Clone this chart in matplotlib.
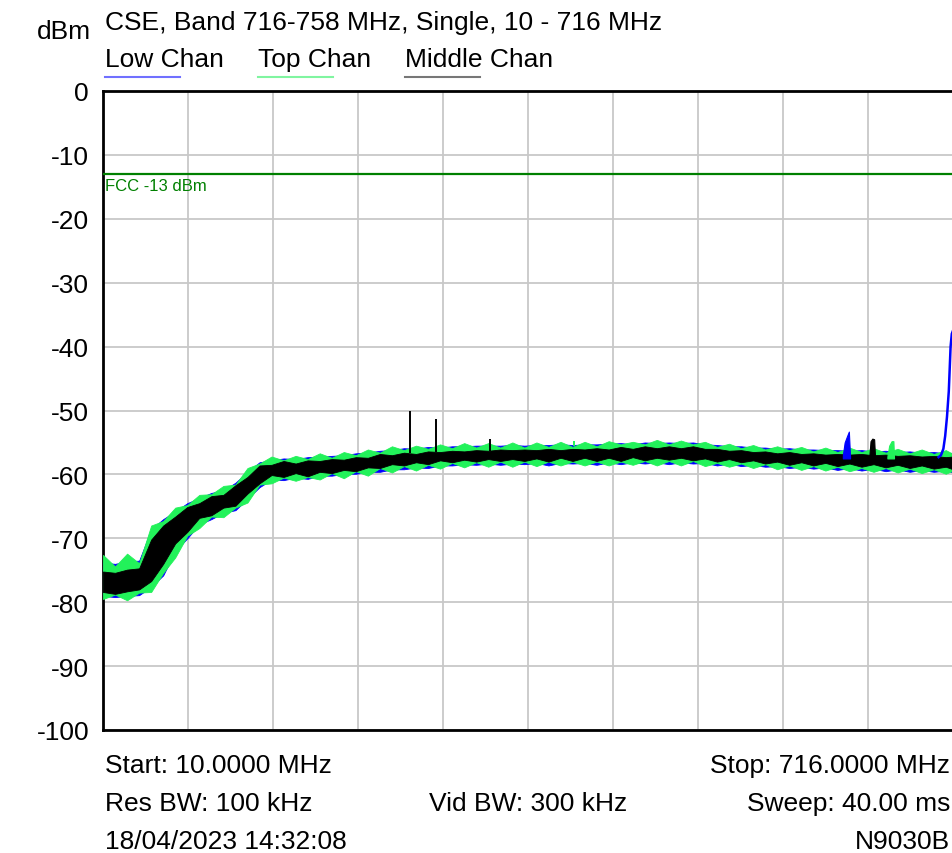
import matplotlib
matplotlib.use("Agg")
import matplotlib.pyplot as plt
import numpy as np

plt.rcParams['font.family'] = ['Liberation Sans', 'DejaVu Sans']

# ---------------- data ----------------
title = "CSE, Band 716-758 MHz, Single, 10 - 716 MHz"
series_names = ["Low Chan", "Top Chan", "Middle Chan"]
start_mhz = 10.0
stop_mhz = 716.0
y_ticks = [0, -10, -20, -30, -40, -50, -60, -70, -80, -90, -100]
fcc_limit = -13.0
fcc_label = "FCC -13 dBm"

freq = [10, 20, 30, 40, 50, 60, 70, 80, 90, 100,
        110, 120, 130, 140, 150, 160, 170, 180, 190, 200,
        210, 220, 230, 240, 250, 260, 270, 280, 290, 300,
        310, 320, 330, 340, 350, 360, 370, 380, 390, 400,
        410, 420, 430, 440, 450, 460, 470, 480, 490, 500,
        510, 520, 530, 540, 550, 560, 570, 580, 590, 600,
        610, 620, 630, 640, 650, 660, 670, 680, 690, 700,
        710, 716]

# Middle Chan (black) noise band: upper / lower envelope (dBm)
mid_upper = [-75.2, -75.4, -74.9, -74.7, -70.2, -68.0, -66.6, -65.1, -64.5, -63.4,
             -63.2, -61.7, -60.4, -58.6, -58.5, -57.9, -58.3, -57.8, -57.9, -57.6,
             -57.7, -57.3, -57.4, -56.8, -57.0, -56.6, -56.8, -56.4, -56.5, -56.3,
             -56.4, -56.2, -56.3, -56.1, -56.2, -56.1, -56.2, -56.0, -56.2, -56.0,
             -56.1, -55.9, -56.1, -55.7, -56.0, -55.6, -55.9, -55.6, -55.9, -55.6,
             -56.0, -56.0, -56.3, -56.2, -56.5, -56.4, -56.7, -56.5, -56.8, -56.7,
             -56.9, -56.8, -56.9, -56.8, -57.0, -56.9, -57.1, -57.0, -57.2, -57.1,
             -57.3, -57.2]
mid_lower = [-78.4, -78.7, -78.3, -78.0, -76.7, -74.0, -70.8, -69.0, -66.8, -66.4,
             -65.2, -64.9, -63.0, -61.4, -60.1, -60.4, -59.8, -60.3, -59.6, -59.8,
             -59.3, -59.5, -58.9, -59.0, -58.4, -58.6, -58.1, -58.4, -57.8, -58.1,
             -57.7, -58.0, -57.6, -57.9, -57.6, -57.9, -57.5, -58.0, -57.4, -57.9,
             -57.4, -57.9, -57.4, -57.9, -57.3, -57.8, -57.4, -57.7, -57.4, -57.8,
             -57.5, -58.0, -57.6, -58.1, -57.8, -58.3, -58.0, -58.5, -58.1, -58.6,
             -58.2, -58.7, -58.3, -58.8, -58.4, -58.9, -58.5, -59.0, -58.6, -59.1,
             -58.8, -59.2]

# Top Chan (green) noise band
top_upper = [-72.6, -74.4, -72.4, -73.9, -68.0, -67.3, -65.2, -64.8, -63.2, -63.1,
             -61.8, -61.6, -59.0, -58.3, -57.2, -57.8, -57.1, -57.6, -56.7, -57.4,
             -56.5, -57.0, -56.1, -56.6, -55.6, -56.2, -55.5, -56.0, -55.3, -55.9,
             -55.1, -55.8, -55.1, -55.8, -55.0, -55.8, -55.0, -55.7, -54.9, -55.7,
             -54.9, -55.6, -54.8, -55.3, -54.9, -55.3, -54.6, -55.3, -54.7, -55.3,
             -54.9, -55.7, -55.2, -55.9, -55.4, -56.1, -55.6, -56.2, -55.7, -56.4,
             -55.8, -56.5, -55.8, -56.5, -55.9, -56.6, -56.0, -56.7, -56.1, -56.8,
             -56.2, -56.8]
top_lower = [-79.5, -78.8, -79.7, -78.5, -78.4, -75.4, -73.0, -69.6, -68.4, -66.6,
             -66.7, -65.2, -64.4, -61.6, -61.4, -60.5, -61.0, -60.4, -60.8, -59.8,
             -60.6, -59.5, -60.2, -59.0, -59.7, -58.7, -59.4, -58.5, -59.1, -58.2,
             -58.9, -58.1, -58.8, -58.0, -58.8, -58.0, -58.7, -58.0, -58.6, -58.0,
             -58.6, -58.0, -58.6, -58.0, -58.5, -57.9, -58.6, -57.9, -58.6, -57.9,
             -58.7, -58.2, -58.8, -58.3, -59.0, -58.4, -59.2, -58.6, -59.3, -58.7,
             -59.4, -58.8, -59.5, -59.0, -59.6, -59.0, -59.7, -59.1, -59.8, -59.2,
             -59.9, -59.4]

# Low Chan (blue) noise band
low_upper = [-73.8, -74.0, -73.6, -73.5, -68.6, -67.0, -65.8, -64.5, -63.7, -62.9,
             -62.5, -61.3, -59.6, -58.1, -57.8, -57.5, -57.6, -57.3, -57.2, -57.1,
             -57.0, -56.7, -56.6, -56.3, -56.2, -55.9, -56.0, -55.7, -55.8, -55.6,
             -55.6, -55.5, -55.5, -55.5, -55.4, -55.5, -55.4, -55.4, -55.3, -55.4,
             -55.3, -55.3, -55.2, -55.1, -55.3, -55.0, -55.1, -55.0, -55.1, -55.0,
             -55.3, -55.4, -55.6, -55.6, -55.8, -55.8, -56.0, -55.9, -56.1, -56.1,
             -56.2, -56.2, -56.3, -56.2, -56.4, -56.3, -56.5, -56.4, -56.6, -56.5,
             -56.7, -56.6]
low_lower = [-79.0, -79.2, -79.0, -78.9, -77.6, -75.8, -72.0, -70.0, -67.8, -67.0,
             -66.0, -65.6, -63.8, -62.0, -60.8, -60.9, -60.5, -60.7, -60.2, -60.2,
             -59.9, -59.9, -59.6, -59.6, -59.2, -59.2, -58.9, -59.0, -58.6, -58.6,
             -58.4, -58.5, -58.3, -58.5, -58.3, -58.4, -58.2, -58.6, -58.2, -58.3,
             -58.2, -58.5, -58.1, -58.4, -58.1, -58.3, -58.1, -58.4, -58.1, -58.3,
             -58.2, -58.6, -58.3, -58.7, -58.5, -58.8, -58.7, -59.0, -58.8, -59.1,
             -58.9, -59.3, -59.0, -59.4, -59.1, -59.5, -59.2, -59.6, -59.3, -59.6,
             -59.4, -59.7]

# narrow spurs (MHz, peak dBm)
mid_spur_freq = [265.2, 286.6, 331.4]
mid_spur_peak = [-50.0, -51.3, -54.5]
top_spur_freq = [401.0]
top_spur_peak = [-54.7]

# small emissions near band edge
low_bump_freq = [624.5, 626.0, 628.0, 629.5, 630.5]
low_bump_level = [-57.0, -55.0, -54.0, -53.3, -57.2]
mid_bump_freq = [646.5, 647.5, 649.0, 650.5, 651.3]
mid_bump_level = [-57.2, -54.8, -54.4, -54.5, -57.5]
top_bump_freq = [661.5, 663.0, 665.0, 666.5, 667.0]
top_bump_level = [-57.2, -55.5, -54.8, -54.8, -57.4]
# Low Chan carrier skirt at the right edge
low_edge_freq = [704.0, 706.0, 708.0, 709.5, 711.0, 712.5, 714.0, 715.0, 716.0]
low_edge_level = [-57.3, -57.0, -56.0, -54.0, -51.0, -47.0, -40.0, -38.0, -37.5]

info_left = ["Start: 10.0000 MHz", "Res BW: 100 kHz", "18/04/2023 14:32:08"]
info_mid = ["", "Vid BW: 300 kHz", ""]
info_right = ["Stop: 716.0000 MHz", "Sweep: 40.00 ms", "N9030B"]

# ---------------- style ----------------
W, H = 952, 854
c_low = "#0000ff"
c_top = "#22f25a"
c_mid = "#000000"
fs = 19

fig = plt.figure(figsize=(W / 100, H / 100), dpi=100)
ax = fig.add_axes([103 / W, (H - 731) / H, 850 / W, 639 / H])

ax.set_xlim(start_mhz, stop_mhz)
ax.set_ylim(-100, 0)
span = stop_mhz - start_mhz
ax.set_xticks([start_mhz + span * k / 10 for k in range(11)])
ax.set_xticklabels([])
ax.set_yticks(y_ticks)
ax.set_yticklabels([str(v) for v in y_ticks], fontsize=fs)
ax.tick_params(axis='both', length=0, pad=10)
ax.grid(True, color="#c8c8c8", lw=1.3)
ax.set_axisbelow(True)
for s in ["left", "bottom", "top"]:
    ax.spines[s].set_color("black")
    ax.spines[s].set_linewidth(2.0)
ax.spines["right"].set_visible(False)

# bands
ax.fill_between(freq, low_lower, low_upper, color=c_low, lw=0.6, zorder=3)
ax.fill_between(freq, top_lower, top_upper, color=c_top, lw=0.6, zorder=4)
ax.fill_between(freq, mid_lower, mid_upper, color=c_mid, lw=0.6, zorder=5)

# spurs
base_mid = np.interp(mid_spur_freq, freq, mid_upper)
ax.vlines(mid_spur_freq, base_mid, mid_spur_peak, color=c_mid, lw=1.4, zorder=6)
base_top = np.interp(top_spur_freq, freq, top_upper)
ax.vlines(top_spur_freq, base_top, top_spur_peak, color=c_top, lw=1.4, zorder=4)

ax.fill_between(low_bump_freq, -57.5, low_bump_level, color=c_low, lw=0.8, zorder=5)
ax.fill_between(mid_bump_freq, -57.5, mid_bump_level, color=c_mid, lw=0.8, zorder=6)
ax.fill_between(top_bump_freq, -57.5, top_bump_level, color=c_top, lw=0.8, zorder=5)
ax.plot(low_edge_freq, low_edge_level, color=c_low, lw=1.8, zorder=6)

# FCC limit
ax.axhline(fcc_limit, color="#008000", lw=1.6, zorder=7)
ax.text(start_mhz + 1.5, fcc_limit - 0.6, fcc_label, color="#008000",
        fontsize=12, va='top', ha='left', zorder=8)

# header texts
fig.text(105 / W, 1 - 30 / H, title, fontsize=fs, ha='left', va='baseline')
fig.text(37 / W, 1 - 39 / H, "dBm", fontsize=fs, ha='left', va='baseline')
leg_x = [105, 258, 405]
leg_colors = ["#7070ff", "#80f5a0", "#777777"]
for name, x0, col in zip(series_names, leg_x, leg_colors):
    fig.text(x0 / W, 1 - 67 / H, name, fontsize=fs, ha='left', va='baseline')
    fig.add_artist(plt.Line2D([x0 / W, (x0 + 75) / W], [1 - 78 / H, 1 - 78 / H],
                              color=col, lw=1.5, transform=fig.transFigure))

# footer texts
rows_y = [773, 811, 849]
for yb, tl, tm, tr in zip(rows_y, info_left, info_mid, info_right):
    fig.text(105 / W, 1 - yb / H, tl, fontsize=fs, ha='left', va='baseline')
    if tm:
        fig.text(528 / W, 1 - yb / H, tm, fontsize=fs, ha='center', va='baseline')
    fig.text(950 / W, 1 - yb / H, tr, fontsize=fs, ha='right', va='baseline')

fig.savefig("out.png", dpi=100)
